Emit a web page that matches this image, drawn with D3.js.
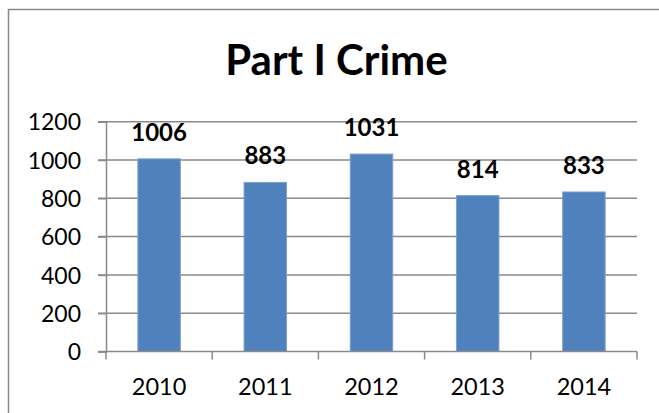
<!DOCTYPE html>
<html>
<head>
<meta charset="utf-8">
<script src="https://cdn.jsdelivr.net/npm/d3@7"></script>
<style>
  html, body { margin: 0; padding: 0; background: #fff; }
  svg { display: block; }
</style>
</head>
<body>
<div id="chart"></div>
<script>
const title = "Part I Crime";
const categories = ["2010", "2011", "2012", "2013", "2014"];
const values = [1006, 883, 1031, 814, 833];
const yTicks = [0, 200, 400, 600, 800, 1000, 1200];

const W = 659, H = 413;
const plot = { left: 106, right: 637, top: 121.7, bottom: 351.5 };
const gridColor = "#8a8a8a";
const font = "Lato, 'Open Sans', sans-serif";

const svg = d3.select("#chart").append("svg")
  .attr("width", W).attr("height", H);

svg.append("rect").attr("width", W).attr("height", H).attr("fill", "#fff");

// outer chart border (right and bottom edges fall outside the picture)
svg.append("rect")
  .attr("x", 8.5).attr("y", 9.5)
  .attr("width", W + 20).attr("height", H + 20)
  .attr("fill", "none").attr("stroke", gridColor).attr("stroke-width", 1.5);

const x = d3.scaleBand().domain(categories)
  .range([plot.left, plot.right]).paddingInner(0.6).paddingOuter(0.3);
const y = d3.scaleLinear().domain([0, 1200]).range([plot.bottom, plot.top]);

// gridlines
svg.append("g").selectAll("line").data(yTicks.filter(d => d > 0)).join("line")
  .attr("x1", plot.left - 8).attr("x2", plot.right)
  .attr("y1", d => y(d)).attr("y2", d => y(d))
  .attr("stroke", gridColor).attr("stroke-width", 1.5);

// y axis
const yAxis = svg.append("g").attr("transform", `translate(${plot.left},0)`)
  .call(d3.axisLeft(y).tickValues(yTicks).tickFormat(d3.format("d")).tickSize(8).tickPadding(17));
yAxis.select(".domain").attr("stroke", gridColor).attr("stroke-width", 1.5);
yAxis.selectAll(".tick line").attr("stroke", gridColor).attr("stroke-width", 1.5);
yAxis.selectAll(".tick text")
  .attr("font-family", font).attr("font-size", 23).attr("fill", "#000")
  .attr("dy", "0.36em");

// bars
svg.append("g").selectAll("rect").data(values).join("rect")
  .attr("x", (d, i) => x(categories[i]))
  .attr("width", x.bandwidth())
  .attr("y", d => y(d))
  .attr("height", d => y(0) - y(d))
  .attr("fill", "#4F81BD")
  .attr("stroke", "#7EA0CE").attr("stroke-width", 1);

// x axis
const xAxis = svg.append("g").attr("transform", `translate(0,${plot.bottom})`);
xAxis.append("line")
  .attr("x1", plot.left - 8).attr("x2", plot.right)
  .attr("stroke", gridColor).attr("stroke-width", 1.5);
const bounds = d3.range(categories.length + 1).map(i => plot.left + i * x.step());
xAxis.selectAll("line.tk").data(bounds).join("line").attr("class", "tk")
  .attr("x1", d => d).attr("x2", d => d).attr("y1", 0).attr("y2", 8)
  .attr("stroke", gridColor).attr("stroke-width", 1.5);
xAxis.selectAll("text").data(categories).join("text")
  .attr("x", d => x(d) + x.bandwidth() / 2)
  .attr("y", 43.5)
  .attr("text-anchor", "middle")
  .attr("font-family", font).attr("font-size", 23.5).attr("fill", "#000")
  .text(d => d);

// data labels
svg.append("g").selectAll("text").data(values).join("text")
  .attr("x", (d, i) => x(categories[i]) + x.bandwidth() / 2)
  .attr("y", d => y(d) - 18)
  .attr("text-anchor", "middle")
  .attr("font-family", font).attr("font-size", 24).attr("font-weight", "bold")
  .attr("fill", "#000")
  .text(d => d);

// title
svg.append("text")
  .attr("x", 336.5).attr("y", 75)
  .attr("text-anchor", "middle")
  .attr("font-family", font).attr("font-size", 42).attr("font-weight", "bold")
  .attr("fill", "#000")
  .text(title);
</script>
</body>
</html>
